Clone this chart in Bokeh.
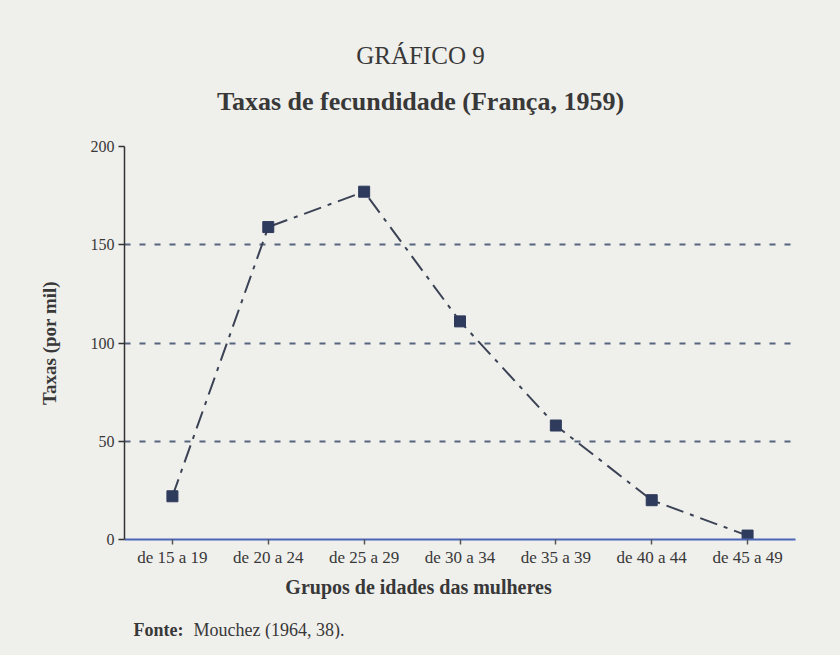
from bokeh.plotting import figure
from bokeh.layouts import column
from bokeh.models import FactorRange, Range1d, FixedTicker
from bokeh.core.properties import value
from bokeh.embed import file_html
from bokeh.resources import INLINE

categories = ["de 15 a 19", "de 20 a 24", "de 25 a 29", "de 30 a 34",
              "de 35 a 39", "de 40 a 44", "de 45 a 49"]
rates = [22, 159, 177, 111, 58, 20, 2]
y_ticks = [0, 50, 100, 150, 200]
grid_levels = [50, 100, 150]

title_text = "GRÁFICO 9"
subtitle_text = "Taxas de fecundidade (França, 1959)"
x_label_text = "Grupos de idades das mulheres"
y_label_text = "Taxas (por mil)"
source_bold = "Fonte:"
source_text = "Mouchez (1964, 38)."

BG = "#efefec"
TXT = "#383838"
FONT = "Liberation Serif"
W = 824
LEFT = 124
RIGHT = 29
TOP_H = 120
MAIN_TOP = 26
FRAME_H = 393
MAIN_BOTTOM = 30
MAIN_H = MAIN_TOP + FRAME_H + MAIN_BOTTOM
BOT_H = 639 - TOP_H - MAIN_H


def text_panel(h):
    f = figure(width=W, height=h, x_range=Range1d(LEFT, W - RIGHT),
               y_range=Range1d(h, 0),
               x_axis_type=None, y_axis_type=None, output_backend="svg",
               toolbar_location=None, min_border=0,
               min_border_left=LEFT, min_border_right=RIGHT,
               background_fill_color=BG, border_fill_color=BG,
               outline_line_color=None)
    f.xgrid.grid_line_color = None
    f.ygrid.grid_line_color = None
    return f


def put(f, x, y, text, size, style="normal", align="center"):
    f.text(x=[x], y=[y], text=[text], text_align=align, text_baseline="middle",
           text_font=value(FONT), text_font_size=size, text_font_style=style,
           text_color=TXT)


# ---- top: titles
top = text_panel(TOP_H)
put(top, 420, 55, title_text, "25px")
put(top, 420, 101, subtitle_text, "26px", "bold")

# ---- main chart
p = figure(width=W, height=MAIN_H,
           x_range=FactorRange(*categories), y_range=Range1d(0, 200),
           output_backend="svg", toolbar_location=None,
           min_border_left=LEFT, min_border_right=RIGHT,
           min_border_top=MAIN_TOP, min_border_bottom=MAIN_BOTTOM,
           background_fill_color=BG, border_fill_color=BG,
           outline_line_color=None)

p.yaxis.ticker = FixedTicker(ticks=y_ticks)
p.yaxis.axis_line_color = "#333333"
p.yaxis.axis_line_width = 1.5
p.yaxis.major_tick_line_color = "#333333"
p.yaxis.major_tick_line_width = 1.5
p.yaxis.major_tick_out = 6
p.yaxis.major_tick_in = 0
p.yaxis.minor_tick_line_color = None
p.yaxis.major_label_text_font = FONT
p.yaxis.major_label_text_font_size = "16px"
p.yaxis.major_label_text_color = TXT
p.yaxis.major_label_standoff = 4
p.yaxis.axis_label = y_label_text
p.yaxis.axis_label_text_font = FONT
p.yaxis.axis_label_text_font_style = "bold"
p.yaxis.axis_label_text_font_size = "19px"
p.yaxis.axis_label_text_color = TXT
p.yaxis.axis_label_standoff = 28

p.xaxis.axis_line_color = "#4a66b5"
p.xaxis.axis_line_width = 2
p.xaxis.major_tick_line_color = "#555555"
p.xaxis.major_tick_line_width = 1.5
p.xaxis.major_tick_out = 5
p.xaxis.major_tick_in = 0
p.xaxis.minor_tick_line_color = None
p.xaxis.major_label_text_font = FONT
p.xaxis.major_label_text_font_size = "17px"
p.xaxis.major_label_text_color = TXT
p.xaxis.major_label_standoff = 3

p.xgrid.grid_line_color = None
p.ygrid.ticker = FixedTicker(ticks=grid_levels)
p.ygrid.grid_line_color = "#56657e"
p.ygrid.grid_line_width = 2
p.ygrid.grid_line_dash = "6 9"

p.line(x=categories, y=rates, line_color="#3b4254", line_width=2,
       line_dash="18 7 4 7")
p.scatter(x=categories, y=rates, marker="square", size=11,
          fill_color="#2f3b5c", line_color="#2f3b5c")

# ---- bottom: x label and source
bot = text_panel(BOT_H)
put(bot, 418, 586 - (TOP_H + MAIN_H), x_label_text, "20px", "bold")
put(bot, 133, 629 - (TOP_H + MAIN_H), source_bold, "18px", "bold", "left")
put(bot, 193, 629 - (TOP_H + MAIN_H), source_text, "18px", "normal", "left")

layout = column(top, p, bot, spacing=0)
html = file_html(layout, INLINE)
html = html.replace("</head>", "<style>body{background:%s;}</style></head>" % BG, 1)
open("out.html", "w").write(html)
